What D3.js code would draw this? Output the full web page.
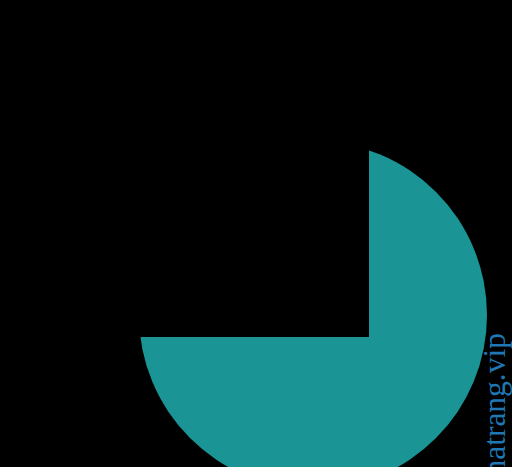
<!DOCTYPE html>
<html>
<head>
<meta charset="utf-8">
<script src="https://cdn.jsdelivr.net/npm/d3@7"></script>
<style>
  html, body { margin: 0; padding: 0; background: #000; overflow: hidden; }
</style>
</head>
<body>
<script>
// data
var labels = ["share", "rest"];
var values = [75, 25];
var colors = ["#1a9494", "#000000"];
var watermark = "hatrang.vip";

var width = 512, height = 467;

var svg = d3.select("body")
    .append("svg")
    .attr("width", width)
    .attr("height", height)
    .style("background-color", "#000");

// circle the shape lives in, and the corner the slice edges start from
var cx = 313, cy = 315, radius = 174;
var vx = 369, vy = 337;

var angle = d3.scaleLinear()
    .domain([0, d3.sum(values)])
    .range([0, 2 * Math.PI]);

var pie = d3.pie()
    .sort(null)
    .value(function(d){ return d; });

var slices = pie(values).map(function(d){
    return {
        startAngle: angle(d3.sum(values.slice(0, d.index))),
        endAngle: angle(d3.sum(values.slice(0, d.index + 1))),
        index: d.index
    };
});

svg.append("defs")
    .append("clipPath")
    .attr("id", "disc")
    .append("circle")
    .attr("cx", cx)
    .attr("cy", cy)
    .attr("r", radius);

var arc = d3.arc()
    .innerRadius(0)
    .outerRadius(radius * 3);

svg.append("g")
    .attr("clip-path", "url(#disc)")
    .selectAll("path")
    .data(slices)
    .enter()
    .append("path")
    .attr("class", function(d){ return "slice " + labels[d.index]; })
    .attr("transform", "translate(" + vx + "," + vy + ")")
    .attr("d", arc)
    .style("fill", function(d){ return colors[d.index]; });

// vertical watermark on the right edge
svg.append("text")
    .attr("transform", "translate(505,333) rotate(-90)")
    .attr("text-anchor", "end")
    .style("font-family", "'Liberation Serif', 'DejaVu Serif', serif")
    .style("font-size", "31.5px")
    .style("fill", "#1f77b4")
    .text(watermark);
</script>
</body>
</html>
